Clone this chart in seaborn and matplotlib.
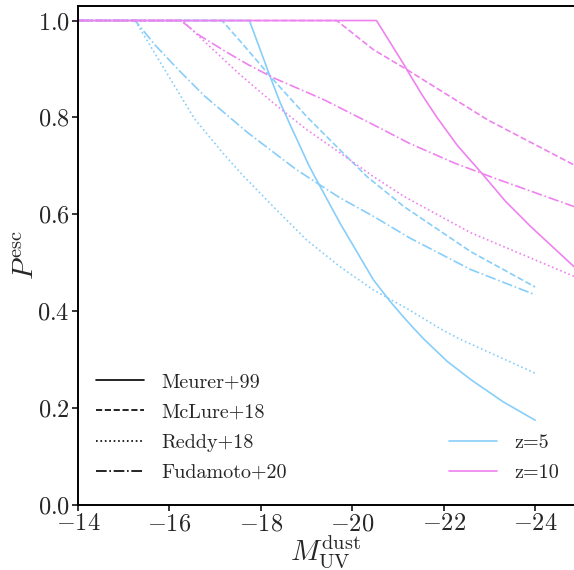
import numpy as np
import pandas as pd
import matplotlib
matplotlib.use("Agg")
import matplotlib.pyplot as plt
from matplotlib.lines import Line2D
import seaborn as sns

# Escape probability vs. dust-attenuated UV magnitude for four attenuation laws
methods = ["Meurer+99", "McLure+18", "Reddy+18", "Fudamoto+20"]
redshifts = ["z=5", "z=10"]

# z = 5
meurer_z5_M = [-14, -17.75, -18.2, -18.42, -18.64, -18.86, -19.04, -19.19, -19.73, -20.46,
               -20.83, -21.13, -21.35, -21.57, -22.07, -22.59, -23.3, -24.0]
meurer_z5_P = [1.0, 1.0, 0.885, 0.831, 0.785, 0.740, 0.703, 0.676, 0.582, 0.465,
               0.420, 0.387, 0.364, 0.342, 0.297, 0.259, 0.213, 0.175]
mclure_z5_M = [-14, -17.15, -17.57, -18.27, -19.0, -19.73, -20.32, -21.13, -22.59, -24.0]
mclure_z5_P = [1.0, 1.0, 0.955, 0.878, 0.802, 0.733, 0.678, 0.616, 0.523, 0.450]
reddy_z5_M = [-14, -15.25, -15.35, -15.90, -16.55, -17.21, -17.61, -18.27, -19.0, -19.73,
              -20.46, -21.26, -21.94, -22.34, -24.0]
reddy_z5_P = [1.0, 1.0, 0.984, 0.898, 0.797, 0.722, 0.680, 0.616, 0.547, 0.492,
              0.444, 0.402, 0.363, 0.343, 0.272]
fudamoto_z5_M = [-14, -15.25, -15.68, -16.19, -16.77, -17.72, -18.78, -19.73, -20.46, -21.26, -22.59, -24.0]
fudamoto_z5_P = [1.0, 1.0, 0.950, 0.899, 0.844, 0.768, 0.692, 0.634, 0.596, 0.551, 0.486, 0.434]

# z = 10
meurer_z10_M = [-14, -20.53, -21.13, -21.26, -21.55, -21.86, -22.3, -22.83, -23.35, -23.90, -24.85]
meurer_z10_P = [1.0, 1.0, 0.909, 0.888, 0.843, 0.799, 0.742, 0.685, 0.627, 0.575, 0.492]
mclure_z10_M = [-14, -19.66, -20.46, -21.19, -22.96, -24.85]
mclure_z10_P = [1.0, 1.0, 0.940, 0.899, 0.795, 0.702]
reddy_z10_M = [-14, -16.28, -16.92, -17.55, -18.27, -19.0, -19.73, -20.46, -21.13, -22.59, -24.85]
reddy_z10_P = [1.0, 1.0, 0.943, 0.888, 0.830, 0.775, 0.727, 0.678, 0.637, 0.562, 0.472]
fudamoto_z10_M = [-14, -16.25, -16.63, -17.21, -17.72, -18.27, -19.37, -20.46, -21.26, -22.23, -23.1, -24.85]
fudamoto_z10_P = [1.0, 1.0, 0.971, 0.937, 0.909, 0.882, 0.837, 0.785, 0.746, 0.706, 0.675, 0.616]

curves = {
    ("z=5", "Meurer+99"): (meurer_z5_M, meurer_z5_P),
    ("z=5", "McLure+18"): (mclure_z5_M, mclure_z5_P),
    ("z=5", "Reddy+18"): (reddy_z5_M, reddy_z5_P),
    ("z=5", "Fudamoto+20"): (fudamoto_z5_M, fudamoto_z5_P),
    ("z=10", "Meurer+99"): (meurer_z10_M, meurer_z10_P),
    ("z=10", "McLure+18"): (mclure_z10_M, mclure_z10_P),
    ("z=10", "Reddy+18"): (reddy_z10_M, reddy_z10_P),
    ("z=10", "Fudamoto+20"): (fudamoto_z10_M, fudamoto_z10_P),
}

rows = []
for (z, m), (xs, ys) in curves.items():
    for x, y in zip(xs, ys):
        rows.append({"M": x, "P": y, "z": z, "method": m})
df = pd.DataFrame(rows)

sns.set_style("ticks")
plt.rcParams.update({
    "font.family": "serif",
    "font.serif": ["cmr10"],
    "mathtext.fontset": "cm",
    "axes.formatter.use_mathtext": True,
    "axes.unicode_minus": True,
})

palette = {"z=5": "lightskyblue", "z=10": "violet"}
dashes = {"Meurer+99": "", "McLure+18": (3.7, 1.6),
          "Reddy+18": (1, 1.65), "Fudamoto+20": (6.4, 1.6, 1, 1.6)}
mpl_styles = {"Meurer+99": "-", "McLure+18": "--",
              "Reddy+18": ":", "Fudamoto+20": "-."}

fig = plt.figure(figsize=(5.74, 5.70), dpi=100)
ax = fig.add_axes([78 / 574, 65 / 570, 1 - 78 / 574, (505 - 6) / 570])

lw = 1.2
sns.lineplot(data=df, x="M", y="P", hue="z", style="method",
             hue_order=redshifts, style_order=methods,
             palette=palette, dashes=dashes, linewidth=lw,
             estimator=None, sort=False, legend=False, ax=ax)

ax.set_xlim(-14, -24.85)
ax.set_ylim(0, 1.03)
ax.set_xticks([-14, -16, -18, -20, -22, -24])
ax.set_yticks([0.0, 0.2, 0.4, 0.6, 0.8, 1.0])
ax.tick_params(labelsize=17.5, width=1.3, length=4, direction="out", pad=2)
for side in ["left", "bottom", "top"]:
    ax.spines[side].set_linewidth(1.4)
    ax.spines[side].set_color("black")
ax.spines["right"].set_visible(False)

ax.set_xlabel(r"$M_{\rm UV}^{\rm dust}$", fontsize=21, labelpad=-1.5)
ax.set_ylabel(r"$P^{\rm esc}$", fontsize=21, labelpad=-2)

style_handles = [Line2D([], [], color="black", lw=lw, linestyle=mpl_styles[m]) for m in methods]
leg1 = ax.legend(style_handles, methods, loc="lower left",
                 bbox_to_anchor=(0.0, 0.01), frameon=False, fontsize=14.5,
                 handlelength=2.4, handletextpad=0.85, labelspacing=0.6)
ax.add_artist(leg1)

color_handles = [Line2D([], [], color=palette[z], lw=lw) for z in redshifts]
ax.legend(color_handles, redshifts, loc="lower right",
          bbox_to_anchor=(1.006, 0.01), frameon=False, fontsize=14.5,
          handlelength=2.4, handletextpad=0.85, labelspacing=0.6)

fig.savefig("out.png", dpi=100)
